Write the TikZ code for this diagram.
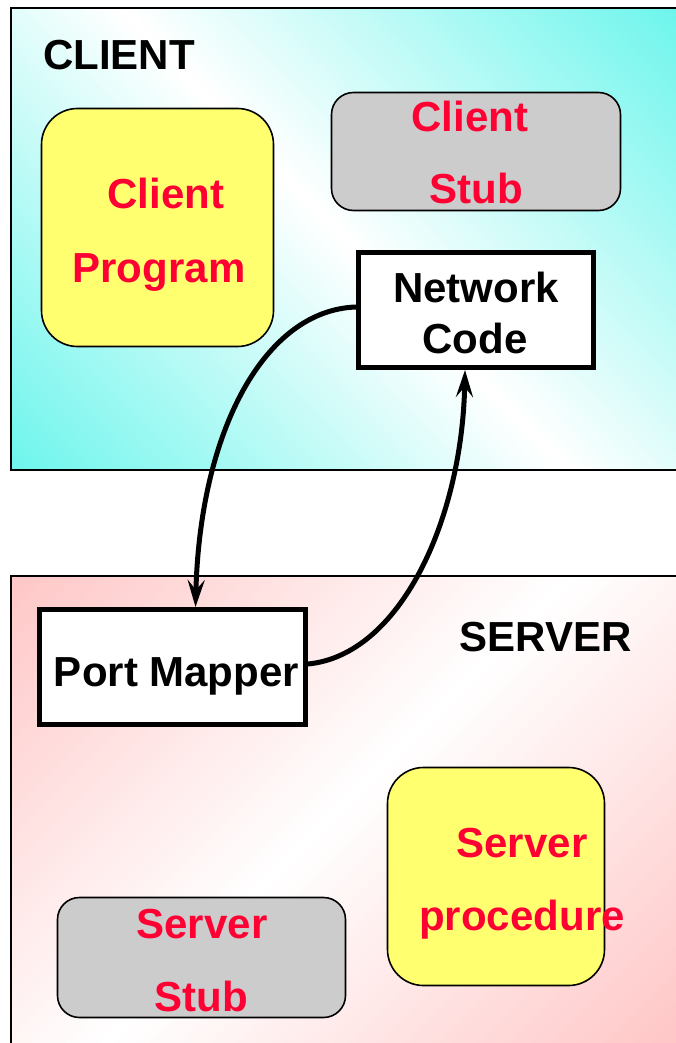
\documentclass[tikz,border=0pt]{standalone}
\usepackage{fontspec}
\setmainfont{Liberation Sans}
\usetikzlibrary{arrows.meta}

\definecolor{clientcyan}{RGB}{108,245,236}
\definecolor{serverpink}{RGB}{255,198,198}
\definecolor{boxyellow}{RGB}{255,255,112}
\definecolor{stubgray}{RGB}{204,204,204}
\definecolor{labelred}{RGB}{255,0,51}

\tikzset{
  region/.style={draw=black, line width=2pt},
  yellowbox/.style={draw=black, line width=1.6pt, fill=boxyellow, rounded corners=36pt, inner sep=0pt},
  graybox/.style={draw=black, line width=1.6pt, fill=stubgray, rounded corners=22pt, inner sep=0pt},
  codebox/.style={draw=black, line width=5pt, fill=white, inner sep=0pt},
  bigtext/.style={font=\fontsize{42}{50}\selectfont\bfseries, inner sep=0pt, anchor=base},
  redtext/.style={bigtext, text=labelred},
  blacktext/.style={bigtext, text=black},
  flow/.style={line width=5pt, -{Stealth[length=27pt, width=17pt, inset=10pt]}},
}

% diagonal band fill: #1 colour at both ends, white in the middle,
% #2 centre point, #3 angle of the colour axis, #4 distance to full colour
\newcommand{\bandfill}[4]{%
  \begin{scope}[shift={#2}, rotate=#3]
    \foreach \i in {-120,...,119}{%
      \pgfmathtruncatemacro{\p}{min(100,abs(\i+0.5)/#4*500)}%
      \fill[#1!\p!white] (\i*5-0.4,-700) rectangle (\i*5+5.4,700);
    }
  \end{scope}%
}

\begin{document}
\begin{tikzpicture}[x=1pt, y=-1pt]
\useasboundingbox (0,0) rectangle (675,1043);
\fill[white] (0,0) rectangle (675,1043);

% client region: cyan at two corners, white band along the other diagonal
\begin{scope}
  \clip (10.5,8) rectangle (700,470);
  \bandfill{clientcyan}{(345,239)}{44}{400}
\end{scope}
\draw[region] (10.5,8) rectangle (700,470);

% server region: pink at two corners, white band along the other diagonal
\begin{scope}
  \clip (10.5,576) rectangle (700,1060);
  \bandfill{serverpink}{(342,809)}{-45}{400}
\end{scope}
\draw[region] (10.5,576) rectangle (700,1060);

% titles
\node[blacktext, anchor=base west] (clienttitle) at (43,70) {CLIENT};
\node[blacktext] (servertitle) at (545.5,651) {SERVER};

% client side boxes
\node[yellowbox, minimum width=232pt, minimum height=238pt] (cprog) at (157.5,227.5) {};
\node[redtext] (cprogA) at (166,208) {Client};
\node[redtext] (cprogB) at (159,282) {Program};

\node[graybox, minimum width=289pt, minimum height=118pt] (cstub) at (476,151.5) {};
\node[redtext] (cstubA) at (470,132) {Client};
\node[redtext] (cstubB) at (476,204) {Stub};

\node[codebox, minimum width=235pt, minimum height=115pt] (ncode) at (476,310) {};
\node[blacktext] (ncodeA) at (476,302) {Network};
\node[blacktext] (ncodeB) at (475,353) {Code};

% server side boxes
\node[codebox, minimum width=266pt, minimum height=115pt] (pmap) at (172.5,667) {};
\node[blacktext] (pmapA) at (176.5,686) {Port Mapper};

\node[yellowbox, minimum width=217pt, minimum height=218pt] (sproc) at (496,876.5) {};
\node[redtext] (sprocA) at (522,857) {Server};
\node[redtext] (sprocB) at (522,930) {procedure};

\node[graybox, minimum width=288pt, minimum height=120pt] (sstub) at (201.5,957.5) {};
\node[redtext] (sstubA) at (202,938) {Server};
\node[redtext] (sstubB) at (201,1011) {Stub};

% lookup: network code asks the port mapper, the answer comes back
\draw[flow] ([yshift=3pt]ncode.west) .. controls (265,310) and (200,430) .. ([xshift=23pt]pmap.north);
\draw[flow] ([yshift=3pt]pmap.east) .. controls (400,655) and (462,520) .. ([xshift=-11pt]ncode.south);
\end{tikzpicture}
\end{document}
